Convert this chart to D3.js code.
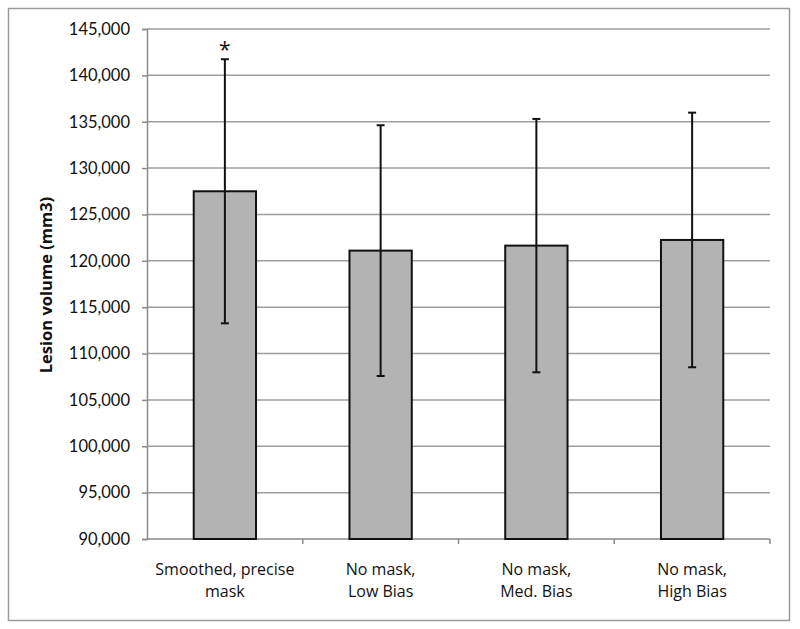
<!DOCTYPE html>
<html>
<head>
<meta charset="utf-8">
<script src="https://cdn.jsdelivr.net/npm/d3@7"></script>
<style>
  body { margin: 0; background: #fff; }
  svg { display: block; font-family: Lato, "Open Sans", sans-serif; }
</style>
</head>
<body>
<svg width="800" height="629"></svg>
<script>
// 数据
const categories = [
    ["Smoothed, precise", "mask"],
    ["No mask,", "Low Bias"],
    ["No mask,", "Med. Bias"],
    ["No mask,", "High Bias"]
];
const means = [127500, 121100, 121640, 122250];
const errors = [14240, 13520, 13660, 13730];
const significant = [true, false, false, false];
const yTicks = [90000, 95000, 100000, 105000, 110000, 115000, 120000, 125000, 130000, 135000, 140000, 145000];

const svg = d3.select("svg");

// 外框
svg.append("rect")
    .attr("x", 8.5).attr("y", 8.5)
    .attr("width", 781).attr("height", 612)
    .attr("fill", "none")
    .attr("stroke", "#9a9a9a")
    .attr("stroke-width", 1.5);

const margin = { left: 147, right: 770, top: 29, bottom: 539 };

const x = d3.scaleBand()
    .domain(d3.range(categories.length))
    .range([margin.left, margin.right])
    .paddingInner(0.6)
    .paddingOuter(0.3);

const y = d3.scaleLinear()
    .domain([90000, 145000])
    .range([margin.bottom, margin.top]);

// 网格线
svg.append("g")
    .selectAll("line")
    .data(yTicks.slice(1))
    .enter()
    .append("line")
    .attr("x1", margin.left)
    .attr("x2", margin.right)
    .attr("y1", d => y(d))
    .attr("y2", d => y(d))
    .attr("stroke", "#9e9e9e")
    .attr("stroke-width", 1.5);

// y 轴
const yAxis = svg.append("g")
    .attr("transform", `translate(${margin.left},0)`)
    .call(d3.axisLeft(y).tickValues(yTicks).tickFormat(d3.format(",")).tickSize(5).tickPadding(12));
yAxis.select(".domain").attr("stroke", "#8a8a8a").attr("stroke-width", 1.5);
yAxis.selectAll(".tick line").attr("stroke", "#8a8a8a").attr("stroke-width", 1.5);
yAxis.selectAll(".tick text").attr("font-size", 16.5).attr("fill", "#111")
    .attr("font-family", "Lato, sans-serif");

// x 轴
svg.append("line")
    .attr("x1", margin.left).attr("x2", margin.right)
    .attr("y1", margin.bottom).attr("y2", margin.bottom)
    .attr("stroke", "#8a8a8a").attr("stroke-width", 1.5);
svg.append("g")
    .selectAll("line")
    .data(d3.range(categories.length))
    .enter()
    .append("line")
    .attr("x1", i => margin.left + (i + 1) * (margin.right - margin.left) / categories.length)
    .attr("x2", i => margin.left + (i + 1) * (margin.right - margin.left) / categories.length)
    .attr("y1", margin.bottom)
    .attr("y2", margin.bottom + 5)
    .attr("stroke", "#8a8a8a").attr("stroke-width", 1.5);

// 柱子
svg.append("g")
    .selectAll("rect")
    .data(means)
    .enter()
    .append("rect")
    .attr("x", (d, i) => x(i))
    .attr("y", d => y(d))
    .attr("width", x.bandwidth())
    .attr("height", d => y(90000) - y(d))
    .attr("fill", "#b3b3b3")
    .attr("stroke", "#111")
    .attr("stroke-width", 2);

// 误差线
const err = svg.append("g").attr("stroke", "#111").attr("stroke-width", 2);
means.forEach((m, i) => {
    const cx = x(i) + x.bandwidth() / 2;
    err.append("line")
        .attr("x1", cx).attr("x2", cx)
        .attr("y1", y(m + errors[i])).attr("y2", y(m - errors[i]));
    [m + errors[i], m - errors[i]].forEach(v => {
        err.append("line")
            .attr("x1", cx - 4).attr("x2", cx + 4)
            .attr("y1", y(v)).attr("y2", y(v));
    });
    if (significant[i]) {
        svg.append("text")
            .attr("x", cx)
            .attr("y", y(m + errors[i]) - 2)
            .attr("text-anchor", "middle")
            .attr("font-size", 21)
            .attr("font-family", "'Open Sans', sans-serif")
            .attr("fill", "#111")
            .text("*");
    }
});

// 类别标签
const labels = svg.append("g")
    .selectAll("text")
    .data(categories)
    .enter()
    .append("text")
    .attr("x", (d, i) => x(i) + x.bandwidth() / 2)
    .attr("y", 575)
    .attr("text-anchor", "middle")
    .attr("font-size", 16)
    .attr("font-family", "'Open Sans', sans-serif")
    .attr("fill", "#111");
labels.selectAll("tspan")
    .data(d => d)
    .enter()
    .append("tspan")
    .attr("x", function () { return d3.select(this.parentNode).attr("x"); })
    .attr("dy", (d, j) => j === 0 ? 0 : 22)
    .text(d => d);

// y 轴标题
svg.append("text")
    .attr("transform", "translate(52,285) rotate(-90)")
    .attr("text-anchor", "middle")
    .attr("font-size", 16.5)
    .attr("font-weight", "bold")
    .attr("font-family", "'Open Sans', sans-serif")
    .attr("fill", "#111")
    .text("Lesion volume (mm3)");
</script>
</body>
</html>
